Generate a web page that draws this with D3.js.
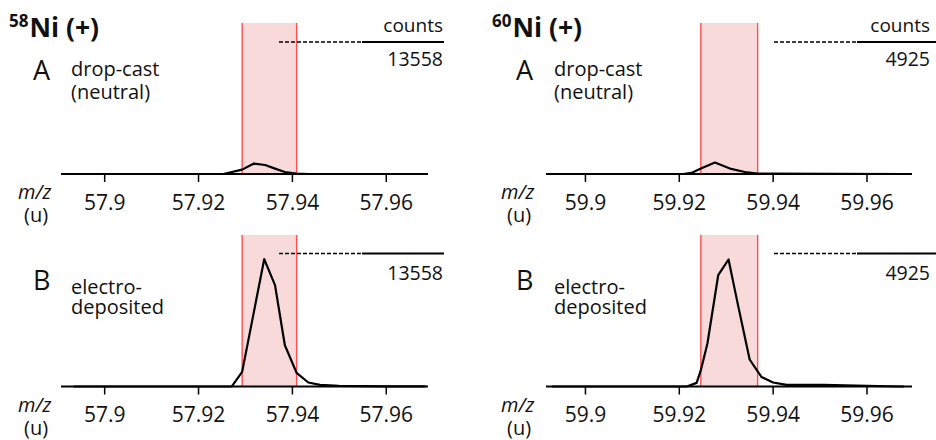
<!DOCTYPE html>
<html>
<head>
<meta charset="utf-8">
<script src="https://cdn.jsdelivr.net/npm/d3@7"></script>
<style>
  body { margin: 0; background: #fff; }
  svg { display: block; font-family: "Open Sans", sans-serif; }
</style>
</head>
<body>
<div id="chart"></div>
<script>
// --- data ---
var isotopes = ["58", "60"];
var fullScaleCounts = [13558, 4925];

var ticks58 = [57.9, 57.92, 57.94, 57.96];
var ticks60 = [59.9, 59.92, 59.94, 59.96];

// integration window (shaded band)
var band58 = [57.9294, 57.9410];
var band60 = [59.9247, 59.9368];

// 58Ni, A drop-cast
var ni58A_mz =     [57.8935, 57.9254, 57.9294, 57.9319, 57.9343, 57.9364, 57.9385, 57.9410, 57.9435, 57.9685];
var ni58A_counts = [0,       0,       450,     1070,    925,     555,     205,     40,      0,       0];
// 58Ni, B electro-deposited
var ni58B_mz =     [57.8935, 57.9272, 57.9294, 57.9341, 57.9364, 57.9385, 57.9410, 57.9435, 57.9460, 57.9500, 57.9600, 57.9685];
var ni58B_counts = [0,       20,      1490,    12980,   10330,   4210,    1390,    410,     165,     60,      20,      10];
// 60Ni, A drop-cast
var ni60A_mz =     [59.8930, 59.9209, 59.9227, 59.9247, 59.9277, 59.9309, 59.9341, 59.9368, 59.9680];
var ni60A_counts = [0,       0,       40,      202,     426,     202,     75,      15,      0];
// 60Ni, B electro-deposited
var ni60B_mz =     [59.8930, 59.9217, 59.9238, 59.9247, 59.9261, 59.9284, 59.9306, 59.9327, 59.9351, 59.9376, 59.9401, 59.9430, 59.9508, 59.9671, 59.9680];
var ni60B_counts = [0,       0,       133,     604,     1592,    4121,    4703,    2948,    1000,    355,     148,     59,      63,      0,       0];

var svg = d3.select("#chart").append("svg").attr("width", 936).attr("height", 440);

var bandFill = "#f9dadb", bandLine = "#ff4d4d", ink = "#111";

function drawPanel(p) {
    var g = svg.append("g");
    var x = d3.scaleLinear().domain(p.domain).range(p.xRange);
    var y = d3.scaleLinear().domain([0, p.full]).range([p.axisY, p.fullY]);

    // shaded integration window
    g.append("rect")
        .attr("x", x(p.band[0])).attr("y", p.bandTop)
        .attr("width", x(p.band[1]) - x(p.band[0]))
        .attr("height", p.axisY - p.bandTop)
        .attr("fill", bandFill);
    p.band.forEach(function (b) {
        g.append("line")
            .attr("x1", x(b)).attr("x2", x(b))
            .attr("y1", p.bandTop).attr("y2", p.axisY)
            .attr("stroke", bandLine).attr("stroke-width", 1.4);
    });

    // axis
    var axis = d3.axisBottom(x).tickValues(p.ticks).tickSize(8).tickPadding(13)
        .tickFormat(function (d) { return String(d); });
    var ax = g.append("g").attr("transform", "translate(0," + p.axisY + ")").call(axis);
    ax.select(".domain").attr("d", "M" + p.xRange[0] + ",0H" + p.xRange[1])
        .attr("stroke", "#000").attr("stroke-width", 2);
    ax.selectAll(".tick line").attr("stroke", "#000").attr("stroke-width", 1.5);
    ax.selectAll(".tick text").attr("font-size", 21).attr("font-family", "Open Sans").attr("fill", ink);

    // spectrum
    var pts = p.mz.map(function (m, i) { return [m, p.counts[i]]; });
    g.append("path")
        .datum(pts)
        .attr("fill", "none").attr("stroke", "#000").attr("stroke-width", 2.2)
        .attr("stroke-linejoin", "round")
        .attr("d", d3.line().x(function (d) { return x(d[0]); }).y(function (d) { return y(d[1]); }));

    // full-scale counts bar
    g.append("line")
        .attr("x1", p.barX[0]).attr("x2", p.barX[1])
        .attr("y1", y(p.full)).attr("y2", y(p.full))
        .attr("stroke", "#000").attr("stroke-width", 1.6).attr("stroke-dasharray", "4,2");
    g.append("line")
        .attr("x1", p.barX[1]).attr("x2", p.barX[2])
        .attr("y1", y(p.full)).attr("y2", y(p.full))
        .attr("stroke", "#000").attr("stroke-width", 2);
    if (p.showCountsLabel) {
        g.append("text").attr("x", p.textRight).attr("y", y(p.full) - 10.5)
            .attr("text-anchor", "end").attr("font-size", 19).attr("fill", ink).text("counts");
    }
    g.append("text").attr("x", p.textRight).attr("y", p.countY)
        .attr("text-anchor", "end").attr("font-size", 19.5).attr("fill", ink).text(p.full);

    // panel letter + sample description
    g.append("text").attr("x", p.letterX).attr("y", p.letterY)
        .attr("font-size", 27).attr("fill", ink).text(p.letter);
    p.desc.forEach(function (line, i) {
        g.append("text").attr("x", p.letterX + 38).attr("y", p.descY[i])
            .attr("font-size", 20).attr("fill", ink).text(line);
    });

    // m/z (u) label
    g.append("text").attr("x", p.mzX).attr("y", p.axisY + 25)
        .attr("font-size", 20).attr("font-style", "italic").attr("fill", ink).text("m/z");
    g.append("text").attr("x", p.mzX + 6).attr("y", p.axisY + 48)
        .attr("font-size", 20).attr("fill", ink).text("(u)");
}

function drawTitle(xPos, iso) {
    var t = svg.append("text").attr("x", xPos).attr("y", 36.5).attr("font-weight", "bold").attr("fill", ink);
    t.append("tspan").attr("font-size", 17).attr("dy", -10).text(iso);
    t.append("tspan").attr("font-size", 26.5).attr("dy", 10).attr("dx", 1).text("Ni (+)");
}

drawTitle(9, isotopes[0]);
drawTitle(492, isotopes[1]);

var left = { domain: [57.8908, 57.969], xRange: [61, 428], ticks: ticks58, band: band58,
    full: fullScaleCounts[0], barX: [279, 362, 444], textRight: 443, mzX: 18, letterX: 33 };
var right = { domain: [59.8917, 59.9697], xRange: [546, 912], ticks: ticks60, band: band60,
    full: fullScaleCounts[1], barX: [774, 857, 936], textRight: 930, mzX: 501, letterX: 516 };

drawPanel(Object.assign({}, left, { mz: ni58A_mz, counts: ni58A_counts, axisY: 174, fullY: 42, bandTop: 23,
    countY: 66, showCountsLabel: true, letter: "A", letterY: 79.5, desc: ["drop-cast", "(neutral)"], descY: [76, 99] }));
drawPanel(Object.assign({}, left, { mz: ni58B_mz, counts: ni58B_counts, axisY: 386.5, fullY: 253.5, bandTop: 235,
    countY: 279.5, showCountsLabel: false, letter: "B", letterY: 290, desc: ["electro-", "deposited"], descY: [294, 314] }));
drawPanel(Object.assign({}, right, { mz: ni60A_mz, counts: ni60A_counts, axisY: 174, fullY: 42, bandTop: 23,
    countY: 66, showCountsLabel: true, letter: "A", letterY: 79.5, desc: ["drop-cast", "(neutral)"], descY: [76, 99] }));
drawPanel(Object.assign({}, right, { mz: ni60B_mz, counts: ni60B_counts, axisY: 386.5, fullY: 253.5, bandTop: 235,
    countY: 279.5, showCountsLabel: false, letter: "B", letterY: 290, desc: ["electro-", "deposited"], descY: [294, 314] }));
</script>
</body>
</html>
